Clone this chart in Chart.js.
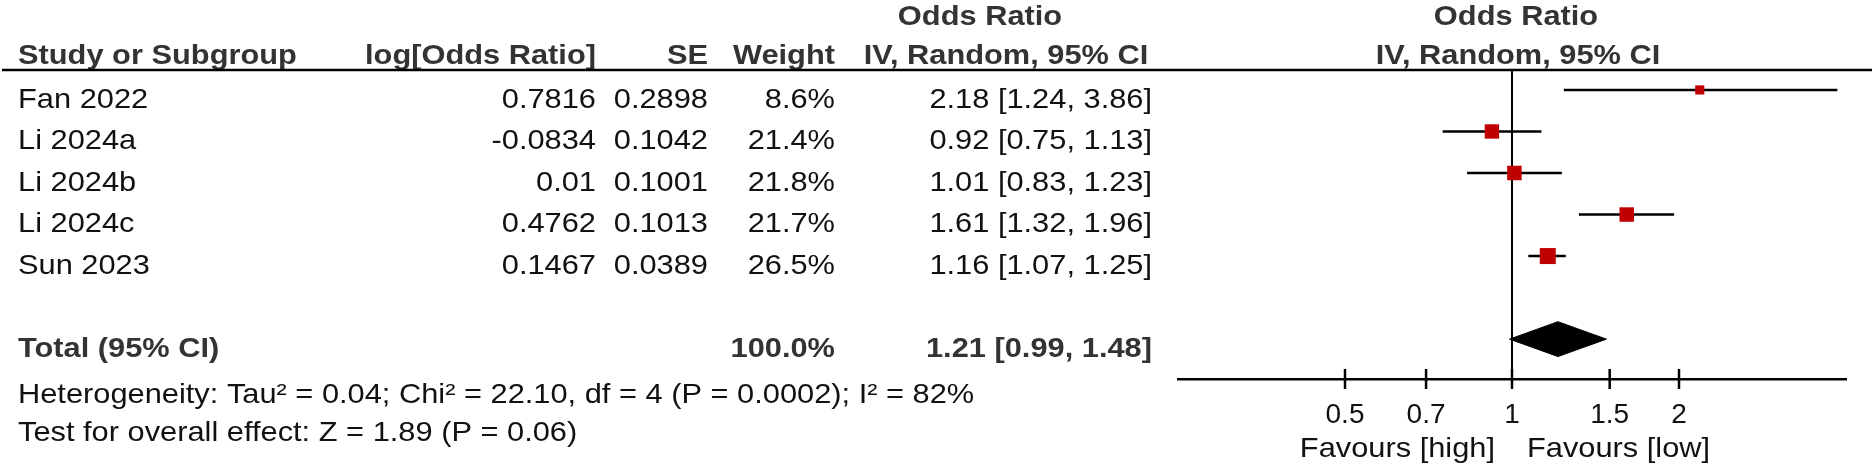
<!DOCTYPE html>
<html>
<head>
<meta charset="utf-8">
<script src="https://cdn.jsdelivr.net/npm/chart.js@4.4.1/dist/chart.umd.min.js"></script>
<style>
  html, body { margin: 0; padding: 0; background: #fff; }
</style>
</head>
<body>
<canvas id="forest" width="1876" height="468"></canvas>
<script>
// study rows
const studies = ['Fan 2022', 'Li 2024a', 'Li 2024b', 'Li 2024c', 'Sun 2023'];
const logOR = ['0.7816', '-0.0834', '0.01', '0.4762', '0.1467'];
const seVals = ['0.2898', '0.1042', '0.1001', '0.1013', '0.0389'];
const weights = [8.6, 21.4, 21.8, 21.7, 26.5];
const oddsRatio = [2.18, 0.92, 1.01, 1.61, 1.16];
const ciLow = [1.24, 0.75, 0.83, 1.32, 1.07];
const ciHigh = [3.86, 1.13, 1.23, 1.96, 1.25];

// pooled result
const totalLabel = 'Total (95% CI)';
const totalWeight = 100.0;
const totalOR = 1.21;
const totalLow = 0.99;
const totalHigh = 1.48;

// axis
const tickValues = [0.5, 0.7, 1, 1.5, 2];
const tickLabels = ['0.5', '0.7', '1', '1.5', '2'];

const heterogeneity = 'Heterogeneity: Tau² = 0.04; Chi² = 22.10, df = 4 (P = 0.0002); I² = 82%';
const overallTest = 'Test for overall effect: Z = 1.89 (P = 0.06)';

const TOTAL_ROW = 6;
const FONT = '"Liberation Sans", Arial, sans-serif';
const ciText = (o, l, h) => o.toFixed(2) + ' [' + l.toFixed(2) + ', ' + h.toFixed(2) + ']';

function txt(ctx, s, x, y, align, bold) {
  ctx.save();
  ctx.font = (bold ? 'bold ' : '') + '28px ' + FONT;
  ctx.fillStyle = bold ? '#333' : '#111';
  ctx.textAlign = align;
  ctx.textBaseline = 'middle';
  ctx.translate(x, y);
  ctx.scale(1.1, 1);
  ctx.fillText(s, 0, 0);
  ctx.restore();
}

// column anchors
const LEFT = 18, COL_LOG = 596, COL_SE = 708, COL_W = 835, COL_CI = 1152;

const tablePlugin = {
  id: 'table',
  afterDraw(chart) {
    const ctx = chart.ctx;
    const xs = chart.scales.x, ys = chart.scales.y;
    const area = chart.chartArea;
    const cx = xs.getPixelForValue(1);

    // headers
    txt(ctx, 'Odds Ratio', 980, 17, 'center', true);
    txt(ctx, 'Odds Ratio', cx + 4, 17, 'center', true);
    txt(ctx, 'Study or Subgroup', LEFT, 56, 'left', true);
    txt(ctx, 'log[Odds Ratio]', COL_LOG, 56, 'right', true);
    txt(ctx, 'SE', COL_SE, 56, 'right', true);
    txt(ctx, 'Weight', COL_W, 56, 'right', true);
    txt(ctx, 'IV, Random, 95% CI', 1006, 56, 'center', true);
    txt(ctx, 'IV, Random, 95% CI', cx + 6, 56, 'center', true);

    ctx.save();
    ctx.strokeStyle = '#000';
    ctx.lineWidth = 2.5;
    ctx.beginPath();
    ctx.moveTo(2, area.top);
    ctx.lineTo(1872, area.top);
    ctx.stroke();
    ctx.restore();

    // study rows
    studies.forEach((s, i) => {
      const y = ys.getPixelForValue(i) + 10;
      txt(ctx, s, LEFT, y, 'left', false);
      txt(ctx, logOR[i], COL_LOG, y, 'right', false);
      txt(ctx, seVals[i], COL_SE, y, 'right', false);
      txt(ctx, weights[i].toFixed(1) + '%', COL_W, y, 'right', false);
      txt(ctx, ciText(oddsRatio[i], ciLow[i], ciHigh[i]), COL_CI, y, 'right', false);
    });

    const ty = ys.getPixelForValue(TOTAL_ROW) + 10;
    txt(ctx, totalLabel, LEFT, ty, 'left', true);
    txt(ctx, totalWeight.toFixed(1) + '%', COL_W, ty, 'right', true);
    txt(ctx, ciText(totalOR, totalLow, totalHigh), COL_CI, ty, 'right', true);

    txt(ctx, heterogeneity, LEFT, 395, 'left', false);
    txt(ctx, overallTest, LEFT, 433, 'left', false);

    // tick marks crossing the axis
    ctx.save();
    ctx.strokeStyle = '#000';
    ctx.lineWidth = 2.5;
    tickValues.forEach(v => {
      const x = xs.getPixelForValue(v);
      ctx.beginPath();
      ctx.moveTo(x, area.bottom - 10);
      ctx.lineTo(x, area.bottom + 10);
      ctx.stroke();
    });
    ctx.restore();

    txt(ctx, 'Favours [high]', cx - 17, 449, 'right', false);
    txt(ctx, 'Favours [low]', cx + 15, 449, 'left', false);
  }
};

const boxSide = w => 3.11 * Math.sqrt(w);

const datasets = [
  {
    label: 'studies',
    data: oddsRatio.map((v, i) => ({ x: v, y: i })),
    pointStyle: 'rect',
    pointRadius: weights.map(w => boxSide(w) / Math.SQRT2),
    backgroundColor: '#c00000',
    borderWidth: 0,
    showLine: false,
    order: 0
  },
  {
    label: 'pooled',
    data: [
      { x: totalLow, y: TOTAL_ROW },
      { x: totalOR, y: TOTAL_ROW - 0.42 },
      { x: totalHigh, y: TOTAL_ROW },
      { x: totalOR, y: TOTAL_ROW + 0.42 },
      { x: totalLow, y: TOTAL_ROW }
    ],
    showLine: true,
    fill: 'shape',
    backgroundColor: '#000',
    borderColor: '#000',
    borderWidth: 1,
    pointRadius: 0,
    order: 1
  },
  {
    label: 'null',
    data: [{ x: 1, y: -0.48 }, { x: 1, y: 6.96 }],
    showLine: true,
    borderColor: '#000',
    borderWidth: 2,
    pointRadius: 0,
    order: 3
  }
];

studies.forEach((s, i) => {
  datasets.push({
    label: s + ' CI',
    data: [{ x: ciLow[i], y: i }, { x: ciHigh[i], y: i }],
    showLine: true,
    borderColor: '#000',
    borderWidth: 2.5,
    pointRadius: 0,
    order: 2
  });
});

new Chart(document.getElementById('forest'), {
  type: 'scatter',
  data: { datasets },
  options: {
    responsive: false,
    animation: false,
    devicePixelRatio: 1,
    layout: { padding: { left: 1178, right: 30, top: 70, bottom: 0 } },
    plugins: { legend: { display: false }, tooltip: { enabled: false } },
    scales: {
      x: {
        type: 'logarithmic',
        min: 0.25,
        max: 4,
        grid: { display: false, drawTicks: false },
        border: { display: true, color: '#000', width: 2.5 },
        afterBuildTicks: scale => { scale.ticks = tickValues.map(v => ({ value: v })); },
        afterFit: scale => { scale.height = 89; },
        ticks: {
          autoSkip: false,
          maxRotation: 0,
          padding: 19,
          color: '#111',
          font: { size: 28, family: FONT },
          callback: (v, i) => tickLabels[i]
        }
      },
      y: {
        type: 'linear',
        display: false,
        reverse: true,
        min: -0.48,
        max: 6.96
      }
    }
  },
  plugins: [tablePlugin]
});
</script>
</body>
</html>
